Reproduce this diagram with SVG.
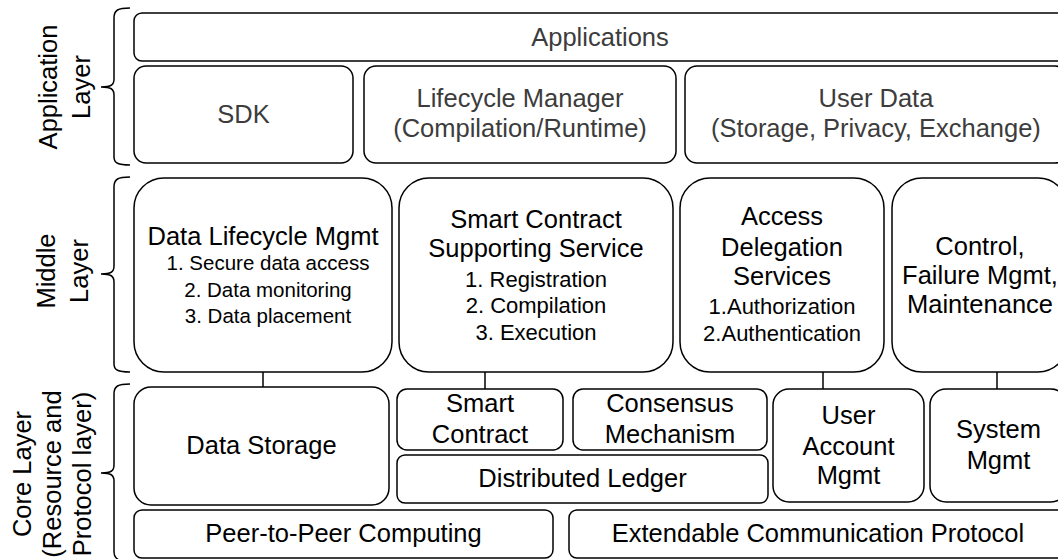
<svg xmlns="http://www.w3.org/2000/svg" width="1058" height="559" viewBox="0 0 1058 559">
<style>
  .box { fill: #ffffff; stroke: #000000; stroke-width: 1.5; }
  .br { fill: none; stroke: #000000; stroke-width: 1.5; }
  .conn { stroke: #000000; stroke-width: 1.5; fill: none; }
  text { font-family: "Liberation Sans", Arial, Helvetica, sans-serif; text-anchor: middle; fill: #000000; }
  .t { font-size: 25.5px; }
  .s { font-size: 22px; }
  .s2 { font-size: 20.5px; }
  .app { fill: #3c3c3c; }
</style>
<rect width="1058" height="559" fill="#ffffff"/>

<!-- Layer labels and brackets -->
<g id="label-application">
  <path class="br" d="M130,8 C118,8 114,10 114,18 L114,79 C114,85 111,87 101,87 C111,87 114,89 114,95 L114,157 C114,163 118,165 130,165"/>
  <text class="t" transform="translate(57,87) rotate(-90)"><tspan x="0" y="0">Application</tspan><tspan x="0" y="33">Layer</tspan></text>
</g>
<g id="label-middle">
  <path class="br" d="M130,177 C118,177 114,179 114,187 L114,266 C114,272 111,274 101,274 C111,274 114,276 114,282 L114,364 C114,370 118,372 130,372"/>
  <text class="t" transform="translate(55,271) rotate(-90)"><tspan x="0" y="0">Middle</tspan><tspan x="0" y="33">Layer</tspan></text>
</g>
<g id="label-core">
  <path class="br" d="M130,384 C118,384 114,386 114,394 L114,465 C114,471 111,473 101,473 C111,473 114,475 114,481 L114,552 C114,558 118,562 130,562"/>
  <text class="t" transform="translate(31,474) rotate(-90)"><tspan x="0" y="0">Core Layer</tspan><tspan x="0" y="30">(Resource and</tspan><tspan x="0" y="60">Protocol layer)</tspan></text>
</g>

<!-- Connectors -->
<g id="connectors">
  <line class="conn" x1="263" y1="372" x2="263" y2="387"/>
  <line class="conn" x1="485" y1="372" x2="485" y2="389"/>
  <line class="conn" x1="823" y1="372" x2="823" y2="389"/>
  <line class="conn" x1="997" y1="372" x2="997" y2="389"/>
</g>

<!-- Application layer -->
<g id="applications">
  <rect class="box" x="134" y="13" width="932" height="48" rx="8"/>
  <text class="t app" x="600" y="46">Applications</text>
</g>
<g id="sdk">
  <rect class="box" x="134" y="66" width="219" height="97" rx="12"/>
  <text class="t app" x="243.5" y="123">SDK</text>
</g>
<g id="lifecycle-manager">
  <rect class="box" x="364" y="66" width="312" height="97" rx="12"/>
  <text class="t app" x="520" y="107">Lifecycle Manager</text>
  <text class="t app" x="520" y="137">(Compilation/Runtime)</text>
</g>
<g id="user-data">
  <rect class="box" x="685" y="66" width="382" height="97" rx="12"/>
  <text class="t app" x="876" y="107">User Data</text>
  <text class="t app" x="876" y="137">(Storage, Privacy, Exchange)</text>
</g>

<!-- Middle layer -->
<g id="data-lifecycle-mgmt">
  <rect class="box" x="134" y="178" width="258" height="194" rx="30"/>
  <text class="t" x="263" y="245">Data Lifecycle Mgmt</text>
  <text class="s2" x="268" y="270">1. Secure data access</text>
  <text class="s2" x="268" y="297">2. Data monitoring</text>
  <text class="s2" x="268" y="323">3. Data placement</text>
</g>
<g id="smart-contract-service">
  <rect class="box" x="399" y="178" width="274" height="194" rx="30"/>
  <text class="t" x="536" y="228">Smart Contract</text>
  <text class="t" x="536" y="257">Supporting Service</text>
  <text class="s" x="536" y="287">1. Registration</text>
  <text class="s" x="536" y="313">2. Compilation</text>
  <text class="s" x="536" y="340">3. Execution</text>
</g>
<g id="access-delegation">
  <rect class="box" x="680" y="178" width="204" height="194" rx="30"/>
  <text class="t" x="782" y="225">Access</text>
  <text class="t" x="782" y="256">Delegation</text>
  <text class="t" x="782" y="285">Services</text>
  <text class="s" x="782" y="314">1.Authorization</text>
  <text class="s" x="782" y="341">2.Authentication</text>
</g>
<g id="control-failure">
  <rect class="box" x="892" y="178" width="176" height="194" rx="30"/>
  <text class="t" x="980" y="255">Control,</text>
  <text class="t" x="980" y="284">Failure Mgmt,</text>
  <text class="t" x="980" y="313">Maintenance</text>
</g>

<!-- Core layer -->
<g id="data-storage">
  <rect class="box" x="134" y="387" width="255" height="118" rx="17"/>
  <text class="t" x="261.5" y="454">Data Storage</text>
</g>
<g id="smart-contract">
  <rect class="box" x="397" y="389" width="166" height="61" rx="10"/>
  <text class="t" x="480" y="412">Smart</text>
  <text class="t" x="480" y="443">Contract</text>
</g>
<g id="consensus">
  <rect class="box" x="573" y="389" width="194" height="61" rx="10"/>
  <text class="t" x="670" y="412">Consensus</text>
  <text class="t" x="670" y="443">Mechanism</text>
</g>
<g id="distributed-ledger">
  <rect class="box" x="397" y="455" width="371" height="48" rx="8"/>
  <text class="t" x="582.5" y="487">Distributed Ledger</text>
</g>
<g id="user-account-mgmt">
  <rect class="box" x="773" y="389" width="151" height="113" rx="16"/>
  <text class="t" x="848.5" y="424">User</text>
  <text class="t" x="848.5" y="455">Account</text>
  <text class="t" x="848.5" y="484">Mgmt</text>
</g>
<g id="system-mgmt">
  <rect class="box" x="930" y="389" width="137" height="113" rx="16"/>
  <text class="t" x="998.5" y="438">System</text>
  <text class="t" x="998.5" y="469">Mgmt</text>
</g>
<g id="p2p-computing">
  <rect class="box" x="134" y="510" width="419" height="48" rx="8"/>
  <text class="t" x="343.5" y="542">Peer-to-Peer Computing</text>
</g>
<g id="extendable-protocol">
  <rect class="box" x="569" y="510" width="498" height="48" rx="8"/>
  <text class="t" x="818" y="542">Extendable Communication Protocol</text>
</g>
</svg>
